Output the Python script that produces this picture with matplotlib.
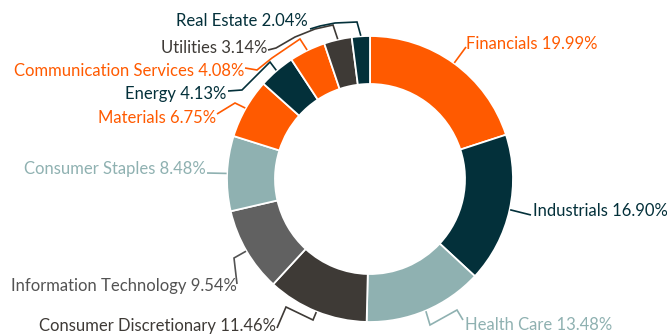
import numpy as np
import matplotlib
matplotlib.use("Agg")
import matplotlib.pyplot as plt

plt.rcParams["font.family"] = ["Lato", "DejaVu Sans"]

# Sector weights (%)
sectors = ["Financials", "Industrials", "Health Care", "Consumer Discretionary",
           "Information Technology", "Consumer Staples", "Materials", "Energy",
           "Communication Services", "Utilities", "Real Estate"]
weights = [19.99, 16.90, 13.48, 11.46, 9.54, 8.48, 6.75, 4.13, 4.08, 3.14, 2.04]

ORANGE = "#FF5A00"
TEAL_DARK = "#03303A"
TEAL_LIGHT = "#8FB1B1"
BROWN = "#3E3A36"
GRAY = "#616161"

wedge_colors = [ORANGE, TEAL_DARK, TEAL_LIGHT, BROWN, GRAY, TEAL_LIGHT,
                ORANGE, TEAL_DARK, ORANGE, BROWN, TEAL_DARK]
label_colors = [ORANGE, TEAL_DARK, TEAL_LIGHT, BROWN, "#535353", TEAL_LIGHT,
                ORANGE, TEAL_DARK, ORANGE, BROWN, TEAL_DARK]

W, H = 667, 335
CX, CY = 370, 179      # donut centre (pixels from top-left)
R_OUT, RING = 143, 48  # outer radius and ring thickness

# label placement: (x, baseline y, horizontal alignment) in pixels from top-left
label_pos = {
    "Financials": (466, 49, "left"),
    "Industrials": (533, 216, "left"),
    "Health Care": (465, 330, "left"),
    "Consumer Discretionary": (276, 331, "right"),
    "Information Technology": (237, 291, "right"),
    "Consumer Staples": (206, 174, "right"),
    "Materials": (216, 123, "right"),
    "Energy": (226, 99, "right"),
    "Communication Services": (244, 76, "right"),
    "Utilities": (267, 53, "right"),
    "Real Estate": (308, 26, "right"),
}

# leader-line bends, from the label towards the ring
leader_bends = {
    "Financials": [(466, 47)],
    "Industrials": [(531, 215)],
    "Health Care": [(463, 320), (457, 310), (430, 325)],
    "Consumer Discretionary": [(277, 328), (286, 307), (313, 320)],
    "Information Technology": [(237, 284), (234, 258)],
    "Consumer Staples": [(207, 173)],
    "Materials": [(217, 114), (235, 103)],
    "Energy": [(228, 91), (242, 90), (270, 62)],
    "Communication Services": [(245, 68), (257, 70), (272, 58), (300, 39)],
    "Utilities": [(268, 50), (276, 48), (295, 37), (315, 29), (333, 25)],
    "Real Estate": [(310, 29), (320, 26), (335, 23), (357, 22)],
}


def flip(y):
    return H - y


fig = plt.figure(figsize=(W / 100, H / 100), dpi=100)
ax = fig.add_axes([0, 0, 1, 1])

ax.pie(weights, colors=wedge_colors, startangle=90, counterclock=False,
       radius=R_OUT, center=(CX, flip(CY)),
       wedgeprops=dict(width=RING, edgecolor="white", linewidth=1.3))

ax.set_xlim(0, W)
ax.set_ylim(0, H)
ax.set_aspect("auto")
ax.axis("off")

total = sum(weights)
cum = 0.0
for name, val, lc in zip(sectors, weights, label_colors):
    mid = 90 - 360 * (cum + val / 2) / total
    cum += val
    th = np.deg2rad(mid)
    ax_x = CX + (R_OUT + 0.5) * np.cos(th)
    ax_y = flip(CY) + (R_OUT + 0.5) * np.sin(th)

    pts = leader_bends[name]
    xs = [p[0] for p in pts] + [ax_x]
    ys = [flip(p[1]) for p in pts] + [ax_y]
    ax.plot(xs, ys, color=lc, lw=1.2, solid_capstyle="butt",
            solid_joinstyle="miter")

    tx, ty, ha = label_pos[name]
    ax.text(tx, flip(ty), f"{name} {val:.2f}%", color=lc, fontsize=12,
            ha=ha, va="baseline")

fig.savefig("out.png", dpi=100)
